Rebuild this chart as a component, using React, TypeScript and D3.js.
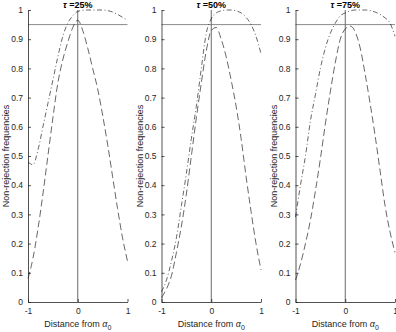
import React, { useEffect, useRef } from "react";
import * as d3 from "d3";

// distance grid shared by all panels
const distance = [-1, -0.9, -0.8, -0.7, -0.6, -0.5, -0.4, -0.3, -0.2, -0.1, 0, 0.1, 0.2, 0.3, 0.4, 0.5, 0.6, 0.7, 0.8, 0.9, 1];

const titles = ["25%", "50%", "75%"];

// dashed curves
const dashed25 = [0.08, 0.15, 0.25, 0.37, 0.5, 0.63, 0.75, 0.83, 0.89, 0.94, 0.965, 0.93, 0.87, 0.8, 0.73, 0.64, 0.54, 0.43, 0.32, 0.22, 0.14];
const dashed50 = [0.015, 0.045, 0.09, 0.17, 0.26, 0.37, 0.5, 0.63, 0.75, 0.86, 0.93, 0.94, 0.9, 0.84, 0.76, 0.67, 0.56, 0.43, 0.31, 0.2, 0.11];
const dashed75 = [0.075, 0.13, 0.2, 0.28, 0.38, 0.49, 0.61, 0.72, 0.82, 0.9, 0.935, 0.945, 0.925, 0.87, 0.78, 0.68, 0.57, 0.45, 0.33, 0.24, 0.17];

// dash-dot curves
const dashDot25 = [0.48, 0.47, 0.52, 0.6, 0.68, 0.76, 0.84, 0.91, 0.955, 0.98, 0.995, 0.999, 1, 1, 1, 1, 0.998, 0.993, 0.985, 0.975, 0.965];
const dashDot50 = [0.035, 0.075, 0.14, 0.22, 0.33, 0.44, 0.56, 0.67, 0.8, 0.92, 0.97, 0.99, 0.997, 1, 1, 0.997, 0.99, 0.975, 0.95, 0.91, 0.85];
const dashDot75 = [0.29, 0.4, 0.5, 0.62, 0.71, 0.8, 0.87, 0.92, 0.955, 0.98, 0.99, 0.997, 1, 1, 1, 0.998, 0.993, 0.985, 0.973, 0.955, 0.91];

const yTicks = [0, 0.1, 0.2, 0.3, 0.4, 0.5, 0.6, 0.7, 0.8, 0.9, 1];
const xTicks = [-1, 0, 1];
const refLevel = 0.95;

const dashedSeries = [dashed25, dashed50, dashed75];
const dashDotSeries = [dashDot25, dashDot50, dashDot75];

const panelLeft = [28, 161.5, 295.5];
const panelWidth = 99.5;
const font = "'Liberation Sans', Arial, Helvetica, sans-serif";

const App = () => {
  const svgRef = useRef<SVGSVGElement>(null);

  useEffect(() => {
    const width = 396;
    const height = 332;
    const svg = d3.select(svgRef.current).attr("width", width).attr("height", height);
    svg.selectAll("*").remove();

    const y = d3.scaleLinear().domain([0, 1]).range([302, 10]);

    titles.forEach((t, i) => {
      const x = d3.scaleLinear().domain([-1, 1]).range([panelLeft[i], panelLeft[i] + panelWidth]);
      const g = svg.append("g");

      // reference lines
      g.append("line")
        .attr("x1", x(-1)).attr("x2", x(1))
        .attr("y1", y(refLevel)).attr("y2", y(refLevel))
        .attr("stroke", "#8a8a8a").attr("stroke-width", 1);
      g.append("line")
        .attr("x1", x(0)).attr("x2", x(0))
        .attr("y1", y(0)).attr("y2", y(1))
        .attr("stroke", "#6a6a6a").attr("stroke-width", 1);

      const line = d3.line<number>()
        .x((_, k) => x(distance[k]))
        .y((d) => y(d))
        .curve(d3.curveMonotoneX);

      g.append("path")
        .attr("d", line(dashDotSeries[i]))
        .attr("fill", "none").attr("stroke", "#000").attr("stroke-width", 0.6)
        .attr("stroke-dasharray", "5,2.5,1,2.5");
      g.append("path")
        .attr("d", line(dashedSeries[i]))
        .attr("fill", "none").attr("stroke", "#000").attr("stroke-width", 0.6)
        .attr("stroke-dasharray", "7,3.5");

      // axes (ticks inside)
      const yAxis = d3.axisLeft(y).tickValues(yTicks).tickSizeInner(-3).tickSizeOuter(0).tickPadding(5)
        .tickFormat((d) => d3.format("")(+d));
      const ya = g.append("g").attr("transform", `translate(${x(-1)},0)`).call(yAxis);
      const xAxis = d3.axisBottom(x).tickValues(xTicks).tickSizeInner(-3).tickSizeOuter(0).tickPadding(6)
        .tickFormat((d) => String(d));
      const xa = g.append("g").attr("transform", `translate(0,${y(0)})`).call(xAxis);
      [ya, xa].forEach((a) => {
        a.select(".domain").attr("stroke", "#262626").attr("stroke-width", 0.8);
        a.selectAll(".tick line").attr("stroke", "#262626").attr("stroke-width", 0.8);
        a.selectAll(".tick text").attr("fill", "#262626").attr("font-size", 8.5).attr("font-family", font);
      });

      // title
      const title = g.append("text")
        .attr("x", x(0)).attr("y", 7.5)
        .attr("text-anchor", "middle")
        .attr("font-family", font).attr("font-size", 9).attr("font-weight", "bold");
      title.append("tspan").attr("font-style", "italic").text("τ");
      title.append("tspan").text(" =" + t);

      // x label
      const xl = g.append("text")
        .attr("x", x(0)).attr("y", 327)
        .attr("text-anchor", "middle")
        .attr("font-family", font).attr("font-size", 9).attr("fill", "#262626");
      xl.append("tspan").text("Distance from ");
      xl.append("tspan").attr("font-style", "italic").text("α");
      xl.append("tspan").attr("font-size", 7).attr("dy", 2.5).text("0");

      // y label
      g.append("text")
        .attr("transform", `translate(${x(-1) - 19},${y(0.5)}) rotate(-90)`)
        .attr("text-anchor", "middle")
        .attr("font-family", font).attr("font-size", 9).attr("fill", "#262626")
        .text("Non-rejection frequencies");
    });
  }, []);

  return <svg ref={svgRef} style={{ position: "absolute", left: 0, top: 0 }}></svg>;
};

export default App;
